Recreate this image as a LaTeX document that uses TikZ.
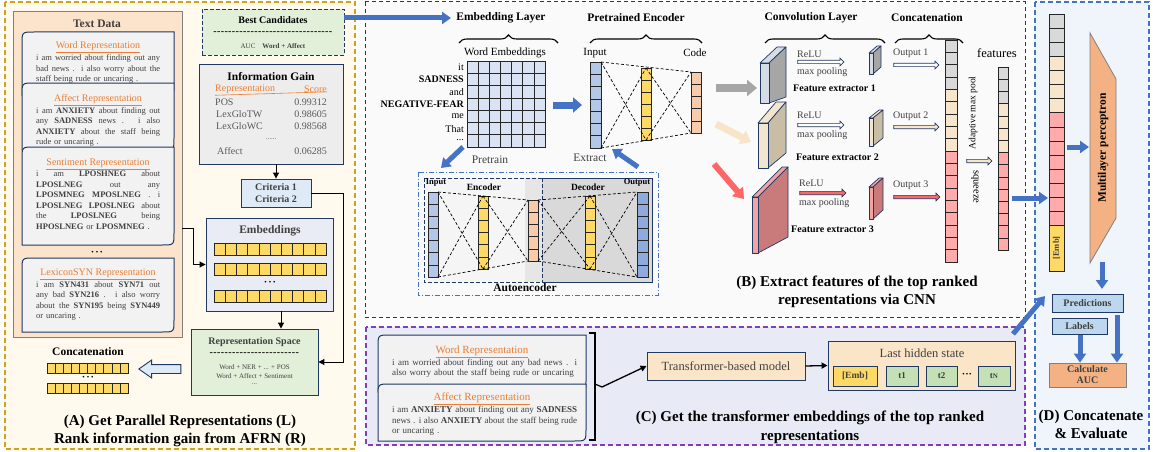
\documentclass[tikz,border=0pt]{standalone}
\usepackage{fontspec}
\setmainfont{Liberation Serif}
\usetikzlibrary{shapes.arrows,decorations.pathreplacing,arrows.meta,calc}

\definecolor{navy}{HTML}{203864}
\definecolor{goldd}{HTML}{D4A017}
\definecolor{panelA}{HTML}{FFF9EE}
\definecolor{peach}{HTML}{FBE3CC}
\definecolor{cardf}{HTML}{F2F2F2}
\definecolor{orT}{HTML}{ED7D31}
\definecolor{txt}{HTML}{404040}
\definecolor{txtg}{HTML}{595959}
\definecolor{ablue}{HTML}{4472C4}
\definecolor{lgreen}{HTML}{E2F0D9}
\definecolor{lgray}{HTML}{EDEDED}
\definecolor{lblue}{HTML}{DEEBF7}
\definecolor{lav}{HTML}{E9EBF5}
\definecolor{cY}{HTML}{FFD966}
\definecolor{cB}{HTML}{B4C7E7}
\definecolor{cB2}{HTML}{8FAADC}
\definecolor{cO}{HTML}{F8CBAD}
\definecolor{cG}{HTML}{D9D9D9}
\definecolor{cBe}{HTML}{F8E6CC}
\definecolor{cP}{HTML}{FFABAB}
\definecolor{gridc}{HTML}{DAE3F3}
\definecolor{panelB}{HTML}{FAFAFA}
\definecolor{panelC}{HTML}{E8EAF5}
\definecolor{purp}{HTML}{7F3FBF}
\definecolor{panelD}{HTML}{F0F5FC}
\definecolor{mlpc}{HTML}{F4B183}
\definecolor{predc}{HTML}{BDD7EE}
\definecolor{tgreen}{HTML}{C5E0B4}
\definecolor{tbeige}{HTML}{FBE5C8}
\definecolor{fea}{HTML}{D6DCE5}
\definecolor{feb}{HTML}{A6A6A6}
\definecolor{fec}{HTML}{F2E6D0}
\definecolor{fed}{HTML}{C9BDA6}
\definecolor{fee}{HTML}{F4A3A3}
\definecolor{fef}{HTML}{C97B7B}
\definecolor{garrow}{HTML}{A6A6A6}
\definecolor{bearrow}{HTML}{F8E5C9}
\definecolor{rarrow}{HTML}{FF6666}
\definecolor{aeA}{HTML}{F5F5F5}
\definecolor{aeB}{HTML}{E6E6E6}
\definecolor{aeC}{HTML}{D9D9D9}

\newcommand{\fsz}[2]{\fontsize{#1}{#2}\selectfont}
\newcommand{\jl}[2]{{\spaceskip=0pt\xspaceskip=0pt\makebox[#1][s]{#2}}}
\newcount\hyc
\newcommand{\hyrow}[1]{\hyc=0 \loop-\kern0.4pt\advance\hyc by 1 \ifnum\hyc<#1 \repeat}
\newcommand{\vcells}[6]{\foreach \k in {1,...,#4}{\filldraw[cell, fill=#6] (#1,{#3+(\k-1)*#5}) rectangle (#2,{#3+\k*#5});}}
\newcommand{\hcells}[6]{\foreach \k in {1,...,#4}{\filldraw[cell, fill=#6] ({#1+(\k-1)*#5},#2) rectangle ({#1+\k*#5},#3);}}
\newcommand{\dseg}[4]{\draw[dl] (#1,#2) -- (#3,#4);}
\newcommand{\cardshape}[5]{\filldraw[card] (#1,#4) -- (#1,{#2+#5}) .. controls (#1,#2) .. ({#1+#5},#2) -- (#3,#2) -- (#3,{#4-#5}) .. controls (#3,#4) .. ({#3-#5},#4) -- cycle;}

\tikzset{
  every node/.style={inner sep=0pt},
  cell/.style={draw=black!85, line width=0.6pt},
  card/.style={fill=cardf, draw=navy, line width=1pt},
  dl/.style={dash pattern=on 3pt off 2pt, line width=0.7pt, draw=black},
  box/.style={draw=navy, line width=0.9pt, inner sep=0pt},
  barrow/.style={draw=ablue, line width=5pt, -{Triangle[length=9pt,width=12pt]}},
  karrow/.style={draw=black, line width=1pt, -{Triangle[length=6pt,width=6pt]}},
  harrow/.style={single arrow, draw=navy, line width=0.7pt, inner sep=1.3pt, minimum width=7.5pt, single arrow head extend=2.2pt},
  ttl/.style={font=\fsz{11.5}{13}\bfseries, text=black},
  capt/.style={font=\fsz{15}{18}\bfseries, text=black, align=center},
  body/.style={anchor=north west, align=left, font=\fsz{8.5}{10.5}, text=txt},
  rtit/.style={font=\fsz{10}{12}, text=orT},
  lbl/.style={font=\fsz{10}{12}, text=txt},
  igtx/.style={font=\fsz{10}{12}, text=txtg},
  prism/.style={draw=navy, line width=0.7pt, line join=round},
}

\begin{document}
\begin{tikzpicture}[x=1pt,y=-1pt]
\useasboundingbox (0,0) rectangle (1153,452);
\fill[white] (0,0) rectangle (1153,452);

% ---------- panels ----------
\filldraw[fill=panelA, draw=goldd, line width=1.2pt, dash pattern=on 5pt off 3pt] (5,2) rectangle (355,449);
\filldraw[fill=panelB, draw=navy, line width=1pt, dash pattern=on 4pt off 3pt] (365,2) rectangle (1025,317);
\filldraw[fill=panelC, draw=purp, line width=1.2pt, dash pattern=on 5pt off 3pt] (366,327) rectangle (1025,445);
\filldraw[fill=panelD, draw=ablue, line width=1.2pt, dash pattern=on 5pt off 3pt] (1035,2) rectangle (1149,449);

% ---------- panel A ----------
\node[draw=gray, fill=peach, line width=0.8pt, minimum width=169pt, minimum height=326pt] (td) at (97.5,174) {};
\node[font=\fsz{11.5}{13}\bfseries, text=txt] (tdt) at (97,24) {Text Data};

\cardshape{22}{32}{174}{95}{12}
\node[rtit] (a1h) at (98,47) {\underline{Word Representation}};
\node[body, text width=124pt] (a1t) at (36,54.5) {\noindent\jl{124pt}{i am worried about finding out any}\\\jl{124pt}{bad news . i also worry about the}\\staff being rude or uncaring .};

\cardshape{22}{83}{174}{150}{12}
\node[rtit] (a2h) at (98,100) {\underline{Affect Representation}};
\node[body, text width=124pt] (a2t) at (36,107) {\noindent\jl{124pt}{i am \textbf{ANXIETY} about finding out}\\\jl{124pt}{any \textbf{SADNESS} news . i also}\\\jl{124pt}{\textbf{ANXIETY} about the staff being}\\rude or uncaring .};

\cardshape{22}{147}{174}{245}{12}
\node[rtit] (a3h) at (98,164) {\underline{Sentiment Representation}};
\node[body, text width=124pt] (a3t) at (36,170.5) {\noindent\jl{124pt}{i am \textbf{LPOSHNEG} about}\\\jl{124pt}{\textbf{LPOSLNEG} out any}\\\jl{124pt}{\textbf{LPOSMNEG} \textbf{MPOSLNEG} . i}\\\jl{124pt}{\textbf{LPOSLNEG} \textbf{LPOSLNEG} about}\\\jl{124pt}{the \textbf{LPOSLNEG} being}\\\textbf{HPOSLNEG} or \textbf{LPOSMNEG} .};

\node[font=\fsz{7}{8}, text=black] (adots) at (97,253) {\textbullet\hspace{2pt}\textbullet\hspace{2pt}\textbullet};

\cardshape{22}{258}{174}{332}{12}
\node[rtit] (a4h) at (98,274) {\underline{LexiconSYN Representation}};
\node[body, text width=124pt] (a4t) at (36,281) {\noindent\jl{124pt}{i am \textbf{SYN431} about \textbf{SYN71} out}\\\jl{124pt}{any bad \textbf{SYN216} . i also worry}\\\jl{124pt}{about the \textbf{SYN195} being \textbf{SYN449}}\\or uncaring .};

% concatenation (A)
\node[ttl] (acat) at (88,352) {Concatenation};
\hcells{47}{363}{373}{10}{8.1}{cY}
\node[font=\fsz{7}{8}] (cdots) at (88,378) {\textbullet\hspace{2pt}\textbullet\hspace{2pt}\textbullet};
\hcells{47}{383}{393}{10}{8.1}{cY}
\node[single arrow, draw=navy, fill=lblue, line width=0.9pt, inner sep=4pt, minimum width=17pt, minimum height=42pt, single arrow head extend=4.5pt, single arrow tip angle=70, shape border rotate=180] (hol) at (163,369) {};

% best candidates
\node[draw=navy, dash pattern=on 4pt off 2pt, line width=0.9pt, fill=lgreen, minimum width=142pt, minimum height=46pt] (bc) at (273,32) {};
\node[font=\fsz{10}{12}\bfseries] (bct) at (273,20) {Best Candidates};
\node[font=\fsz{10}{12}\bfseries] (bcd) at (273,33.5) {\hyrow{32}};
\node[font=\fsz{7}{8}, text=txt] (bcv) at (273,46) {AUC\quad\textbf{Word + Affect}};

% information gain
\node[box, fill=lgray, minimum width=144pt, minimum height=100pt] (ig) at (271,114) {};
\node[ttl] (igt) at (271,77) {Information Gain};
\node[rtit, anchor=west] (igr) at (215,89.5) {Representation};
\node[rtit, anchor=east] (igs) at (327,89.5) {Score};
\draw[orT, line width=0.6pt] (igr.south west) ++(0,1.2) -- ($(igs.south east)+(0,-1.2)$);
\node[igtx, anchor=west] (ig1) at (215,102) {POS};
\node[igtx, anchor=east] (ig1v) at (327,102) {0.99312};
\node[igtx, anchor=west] (ig2) at (216,114) {LexGloTW};
\node[igtx, anchor=east] (ig2v) at (327,114) {0.98605};
\node[igtx, anchor=west] (ig3) at (216,126) {LexGloWC};
\node[igtx, anchor=east] (ig3v) at (327,126) {0.98568};
\node[font=\fsz{7}{8}, text=txtg] (ig4) at (271,139) {......};
\node[igtx, anchor=west] (ig5) at (217,151) {Affect};
\node[igtx, anchor=east] (ig5v) at (327,151) {0.06285};

% criteria
\node[box, fill=lblue, minimum width=70pt, minimum height=28pt, align=center, font=\fsz{10}{12}\bfseries, text=txt] (cr) at (276,193) {Criteria 1\\Criteria 2};

% embeddings
\node[box, fill=lav, minimum width=127pt, minimum height=93pt] (emb) at (269.5,264.5) {};
\node[ttl, text=txt] (embt) at (270,231) {Embeddings};
\hcells{214}{243}{255}{10}{11.2}{cY}
\hcells{214}{263}{275}{10}{11.2}{cY}
\node[font=\fsz{7}{8}] (edots) at (270,282.5) {\textbullet\hspace{2pt}\textbullet\hspace{2pt}\textbullet};
\hcells{214}{290}{302}{10}{11.2}{cY}

% representation space
\node[box, fill=lgreen, minimum width=127pt, minimum height=66pt] (rs) at (254.5,362) {};
\node[font=\fsz{10}{12}\bfseries, text=txt] (rst) at (254.5,342) {Representation Space};
\node[font=\fsz{10}{12}\bfseries] (rsd) at (254.5,354.5) {\hyrow{24}};
\node[font=\fsz{7}{8.5}, text=txt] (rs1) at (254.5,367) {Word + NER + ... + POS};
\node[font=\fsz{7}{8.5}, text=txt] (rs2) at (254.5,376) {Word + Affect + Sentiment};
\node[font=\fsz{7}{8.5}, text=txt] (rs3) at (254.5,384) {...};

% panel A connectors
\draw[karrow] (ig.south -| cr.north) -- (cr.north);
\coordinate (crv) at (343,193);
\draw[karrow] (cr.east) -- (crv) |- (rs.east);
\coordinate (tdo) at (182,228);
\coordinate (tdk) at (193,228);
\draw[karrow] (tdo) -- (tdk) |- (emb.west);
\coordinate (embo) at (281,311);
\draw[karrow] (embo) -- (embo |- rs.north);

\node[capt] (capA) at (180,431) {(A) Get Parallel Representations (L)\\Rank information gain from AFRN (R)};

% ---------- panel B ----------
\coordinate (bco) at (344,18);
\coordinate (eli) at (451,18);
\draw[barrow] (bco) -- (eli);

\node[ttl] (elt) at (501,18) {Embedding Layer};
\draw[line width=1.1pt, decorate, decoration={brace, amplitude=8pt}] (459,43) -- (558,43);
\node[font=\fsz{11}{13}] (wet) at (505,53) {Word Embeddings};
\foreach \i in {0,...,6}{\foreach \j in {0,...,6}{
  \filldraw[cell, fill=gridc] ({467+\i*11.14},{61+\j*12.29}) rectangle ({467+(\i+1)*11.14},{61+(\j+1)*12.29});}}
\node[font=\fsz{10}{12}, anchor=east] (w1) at (464,67) {it};
\node[font=\fsz{10}{12}\bfseries, anchor=east] (w2) at (464,79.4) {SADNESS};
\node[font=\fsz{10}{12}, anchor=east] (w3) at (464,91.7) {and};
\node[font=\fsz{10}{12}\bfseries, anchor=east] (w4) at (464,104) {NEGATIVE-FEAR};
\node[font=\fsz{10}{12}, anchor=east] (w5) at (464,116.3) {me};
\node[font=\fsz{10}{12}, anchor=east] (w6) at (464,128.6) {That};
\node[font=\fsz{10}{12}, anchor=east] (w7) at (464,140) {...};

\coordinate (gro) at (553,105);
\coordinate (pei) at (582,105);
\draw[barrow, line width=7pt, -{Triangle[length=9pt,width=15pt]}] (gro) -- (pei);

\node[ttl] (pet) at (636,18) {Pretrained Encoder};
\draw[line width=1.1pt, decorate, decoration={brace, amplitude=8pt}] (590,43) -- (702,43);
\node[font=\fsz{11}{13}] (pin) at (595,53) {Input};
\node[font=\fsz{11}{13}] (pcd) at (695,53) {Code};
\vcells{590}{601}{62}{7}{12.29}{cB}
\vcells{641}{651}{68}{6}{12}{cY}
\vcells{691}{701}{72}{5}{12.2}{cO}
\dseg{601}{62}{691}{72}
\dseg{601}{148}{691}{133}
\dseg{601}{62}{646}{140}
\dseg{601}{148}{646}{68}
\dseg{646}{68}{691}{133}
\dseg{646}{140}{691}{72}

\node[font=\fsz{11.5}{13}, text=txt] (ptr) at (490,160) {Pretrain};
\node[font=\fsz{11.5}{13}, text=txt] (pex) at (590,158) {Extract};
\coordinate (pr1) at (463,147);
\coordinate (pr2) at (441,168);
\draw[barrow] (pr1) -- (pr2);
\coordinate (ex1) at (638,167);
\coordinate (ex2) at (612,149);
\draw[barrow] (ex1) -- (ex2);

% autoencoder
\draw[ablue, line width=0.9pt, dash pattern=on 5pt off 2pt on 1pt off 2pt] (418,172) rectangle (658,295);
\fill[aeA] (424,178) rectangle (652,282);
\fill[aeB] (525,178) rectangle (652,282);
\filldraw[fill=aeC, draw=navy, line width=0.8pt, dash pattern=on 4pt off 2pt] (542,178) rectangle (652,282);
\draw[navy, line width=0.8pt, dash pattern=on 4pt off 2pt] (424,178) rectangle (652,282);
\vcells{428}{438}{192}{7}{12.14}{cB}
\vcells{478}{488}{196}{6}{12.17}{cY}
\vcells{528}{538}{200}{5}{12.2}{cO}
\vcells{585}{595}{196}{6}{12.17}{cY}
\vcells{637}{648}{192}{7}{12.14}{cB2}
\dseg{438}{192}{528}{200}
\dseg{538}{200}{637}{192}
\dseg{438}{277}{528}{261}
\dseg{538}{261}{637}{277}
\dseg{438}{192}{483}{269}
\dseg{438}{277}{483}{196}
\dseg{483}{196}{528}{261}
\dseg{483}{269}{528}{200}
\dseg{538}{200}{590}{269}
\dseg{538}{261}{590}{196}
\dseg{590}{196}{637}{277}
\dseg{590}{269}{637}{192}
\node[font=\fsz{8.5}{10}\bfseries] (aein) at (436,183) {Input};
\node[font=\fsz{9.5}{11}\bfseries] (aeen) at (484,187) {Encoder};
\node[font=\fsz{9.5}{11}\bfseries] (aede) at (588,187) {Decoder};
\node[font=\fsz{8.5}{10}\bfseries] (aeou) at (637,183) {Output};
\node[ttl] (aet) at (525,288) {Autoencoder};

% convolution layer
\node[ttl] (cvt) at (811,18) {Convolution Layer};
\draw[line width=1.1pt, decorate, decoration={brace, amplitude=8pt}] (765,43) -- (885,43);
\node[ttl] (cct) at (927,18) {Concatenation};
\draw[line width=1.1pt, decorate, decoration={brace, amplitude=8pt}] (895,43) -- (963,43);

\coordinate (g1) at (716,88); \coordinate (g2) at (757,88);
\draw[garrow, line width=8pt, -{Triangle[length=10pt,width=16pt]}] (g1) -- (g2);
\coordinate (b1) at (716,124); \coordinate (b2) at (751,142);
\draw[bearrow, line width=7pt, -{Triangle[length=10pt,width=15pt]}] (b1) -- (b2);
\coordinate (r1) at (714,164); \coordinate (r2) at (744,199);
\draw[rarrow, line width=6pt, -{Triangle[length=10pt,width=14pt]}] (r1) -- (r2);

% FE1
\filldraw[prism, fill=fea] (760,63) -- (777,47) -- (786,47) -- (769,63) -- cycle;
\filldraw[prism, fill=feb] (769,63) -- (786,47) -- (786,97) -- (769,103) -- cycle;
\filldraw[prism, fill=fea] (760,63) rectangle (769,103);
\filldraw[prism, fill=fea] (869,53) -- (877,46) -- (881,46) -- (873,53) -- cycle;
\filldraw[prism, fill=feb] (873,53) -- (881,46) -- (881,67) -- (873,74) -- cycle;
\filldraw[prism, fill=fea] (869,53) rectangle (873,74);
\node[lbl, anchor=west] (re1) at (797,54) {ReLU};
\node[harrow, fill=white, minimum height=46pt] (ra1) at (820,62) {};
\node[lbl, anchor=west] (mp1) at (797,72) {max pooling};
\node[font=\fsz{10}{12}\bfseries, anchor=west] (fe1) at (793,88) {Feature extractor 1};
\node[lbl, anchor=west] (o1) at (893,53) {Output 1};
\node[harrow, fill=white, minimum height=45pt] (oa1) at (915.5,65) {};

% FE2
\filldraw[prism, fill=fec] (758,123) -- (776,102) -- (786,102) -- (768,123) -- cycle;
\filldraw[prism, fill=fed] (768,123) -- (786,102) -- (786,153) -- (768,168) -- cycle;
\filldraw[prism, fill=fec] (758,123) rectangle (768,168);
\filldraw[prism, fill=fec] (869,118) -- (879,110) -- (883,110) -- (873,118) -- cycle;
\filldraw[prism, fill=fed] (873,118) -- (883,110) -- (883,138) -- (873,146) -- cycle;
\filldraw[prism, fill=fec] (869,118) rectangle (873,146);
\node[lbl, anchor=west] (re2) at (797,115) {ReLU};
\node[harrow, fill=white, minimum height=46pt] (ra2) at (820,125) {};
\node[lbl, anchor=west] (mp2) at (797,135) {max pooling};
\node[font=\fsz{10}{12}\bfseries, anchor=west] (fe2) at (796,157) {Feature extractor 2};
\node[lbl, anchor=west] (o2) at (893,116) {Output 2};
\node[harrow, fill=cBe, minimum height=45pt] (oa2) at (915.5,127) {};

% FE3
\filldraw[prism, fill=fee] (752,197) -- (782,167) -- (788,167) -- (758,197) -- cycle;
\filldraw[prism, fill=fef] (758,197) -- (788,167) -- (788,237) -- (758,253) -- cycle;
\filldraw[prism, fill=fee] (752,197) rectangle (758,253);
\filldraw[prism, fill=fee] (869,187) -- (879,178) -- (883,178) -- (873,187) -- cycle;
\filldraw[prism, fill=fef] (873,187) -- (883,178) -- (883,210) -- (873,219) -- cycle;
\filldraw[prism, fill=fee] (869,187) rectangle (873,219);
\node[lbl, anchor=west] (re3) at (799,183) {ReLU};
\node[harrow, fill=rarrow, minimum height=46pt] (ra3) at (822,193) {};
\node[lbl, anchor=west] (mp3) at (799,203) {max pooling};
\node[font=\fsz{10}{12}\bfseries, anchor=west] (fe3) at (791,229) {Feature extractor 3};
\node[lbl, anchor=west] (o3) at (893,185) {Output 3};
\node[harrow, fill=rarrow, minimum height=46pt] (oa3) at (916,197) {};

% concatenation column
\vcells{945}{957}{40}{4}{12.33}{cG}
\vcells{945}{957}{89.32}{5}{12.33}{cBe}
\vcells{945}{957}{150.97}{9}{12.33}{cP}
% features column
\node[font=\fsz{12.5}{14}] (fet) at (997,53) {features};
\vcells{998}{1008}{67}{3}{12.2}{cG}
\vcells{998}{1008}{103.6}{4}{12.2}{cBe}
\vcells{998}{1008}{152.4}{8}{12.2}{cP}
\node[font=\fsz{9.5}{11}, rotate=90] (amp) at (973,113) {Adaptive max pool};
\node[harrow, fill=cBe, minimum height=25pt] (sqa) at (978.5,161) {};
\node[font=\fsz{10.5}{12}, rotate=-90] (sqz) at (975,187) {squeeze};

\node[capt] (capB) at (857,291.5) {(B) Extract features of the top ranked\\representations via CNN};

% ---------- panel C ----------
\cardshape{378}{335}{586}{392}{12}
\node[font=\fsz{11}{13}, text=orT] (c1h) at (482,352) {\underline{Word Representation}};
\node[body, font=\fsz{9}{10.5}, text width=185pt] (c1t) at (392,358.5) {\noindent\jl{185pt}{i am worried about finding out any bad news . i}\\also worry about the staff being rude or uncaring .};
\cardshape{378}{384}{586}{441}{12}
\node[font=\fsz{11}{13}, text=orT] (c2h) at (482,399) {\underline{Affect Representation}};
\node[body, font=\fsz{9}{10.5}, text width=185pt] (c2t) at (392,406) {\noindent\jl{185pt}{i am \textbf{ANXIETY} about finding out any \textbf{SADNESS}}\\\jl{185pt}{news . i also \textbf{ANXIETY} about the staff being rude}\\or uncaring .};
\draw[line width=1.2pt] (589,333) -- (595,333) -- (595,440) -- (589,440);
\coordinate (brk) at (602,387);
\draw[line width=1.2pt] (595,384) -- (brk);

\node[box, fill=tbeige, minimum width=158pt, minimum height=28pt, font=\fsz{12.5}{14}, text=txt] (tr) at (726,366) {Transformer-based model};
\draw[karrow, line width=1.3pt] (brk) -- (tr.west);
\node[box, fill=tbeige, minimum width=187pt, minimum height=49pt] (lh) at (921.5,365.5) {};
\draw[karrow, line width=1.3pt] (tr.east) -- (lh.west);
\node[font=\fsz{12.5}{14}, text=txt] (lht) at (922,353.5) {Last hidden state};
\node[box, fill=cY, minimum width=44pt, minimum height=20pt, font=\fsz{9.5}{11}\bfseries, text=txt] (temb) at (855,376) {[Emb]};
\node[box, fill=tgreen, minimum width=32pt, minimum height=20pt, font=\fsz{9}{11}\bfseries, text=txt] (tt1) at (902,376) {t1};
\node[box, fill=tgreen, minimum width=31pt, minimum height=20pt, font=\fsz{9}{11}\bfseries, text=txt] (tt2) at (941.5,376) {t2};
\node[font=\fsz{7}{8}] (tdots) at (967,375) {\textbullet\hspace{1pt}\textbullet\hspace{1pt}\textbullet};
\node[box, fill=tgreen, minimum width=32pt, minimum height=20pt, font=\fsz{9}{11}\bfseries, text=txt] (ttn) at (994,376) {t{\fsz{7}{8}N}};

\node[capt, font=\fsz{15}{19}\bfseries] (capC) at (810,427.5) {(C) Get the transformer embeddings of the top ranked\\representations};

% ---------- panel D ----------
\vcells{1049}{1064}{14}{3}{14.1}{cG}
\vcells{1049}{1064}{56.3}{4}{14.1}{cBe}
\vcells{1049}{1064}{112.7}{8}{14.1}{cP}
\filldraw[cell, fill=cY] (1049,225.5) rectangle (1064,271);
\node[font=\fsz{8.5}{10}\bfseries, rotate=90, text=txt] (demb) at (1056.5,248) {[Emb]};

\coordinate (fo) at (1012,198);
\coordinate (di) at (1048,198);
\draw[barrow] (fo) -- (di);
\coordinate (co) at (1013,334);
\coordinate (ci) at (1045,296);
\draw[barrow] (co) -- (ci);

\filldraw[fill=mlpc, draw=gray, line width=0.8pt] (1090,33) -- (1116,79) -- (1116,218) -- (1090,263) -- cycle;
\node[font=\fsz{11.5}{13}\bfseries, rotate=90] (mlp) at (1103,148) {Multilayer perceptron};
\coordinate (dc1) at (1067,147);
\coordinate (dc2) at (1089,147);
\draw[barrow] (dc1) -- (dc2);

\node[box, fill=predc, minimum width=71pt, minimum height=18pt, font=\fsz{10}{12}\bfseries, text=txt] (pred) at (1087.5,303) {Predictions};
\node[box, fill=predc, minimum width=55pt, minimum height=16pt, font=\fsz{10}{12}\bfseries, text=txt] (labl) at (1079.5,326) {Labels};
\node[draw=gray, line width=0.8pt, fill=mlpc, minimum width=77pt, minimum height=24pt, align=center, font=\fsz{10}{11}\bfseries, text=txt] (auc) at (1087.5,375) {Calculate\\AUC};
\coordinate (m1) at (1102,262);
\coordinate (m2) at (1102,289);
\draw[barrow] (m1) -- (m2);
\coordinate (l1) at (1080,335);
\draw[barrow] (l1) -- (l1 |- auc.north);
\coordinate (p1) at (1117,315);
\draw[barrow] (p1) -- (p1 |- auc.north);

\node[capt] (capD) at (1091,424) {(D) Concatenate\\\& Evaluate};
\end{tikzpicture}
\end{document}
